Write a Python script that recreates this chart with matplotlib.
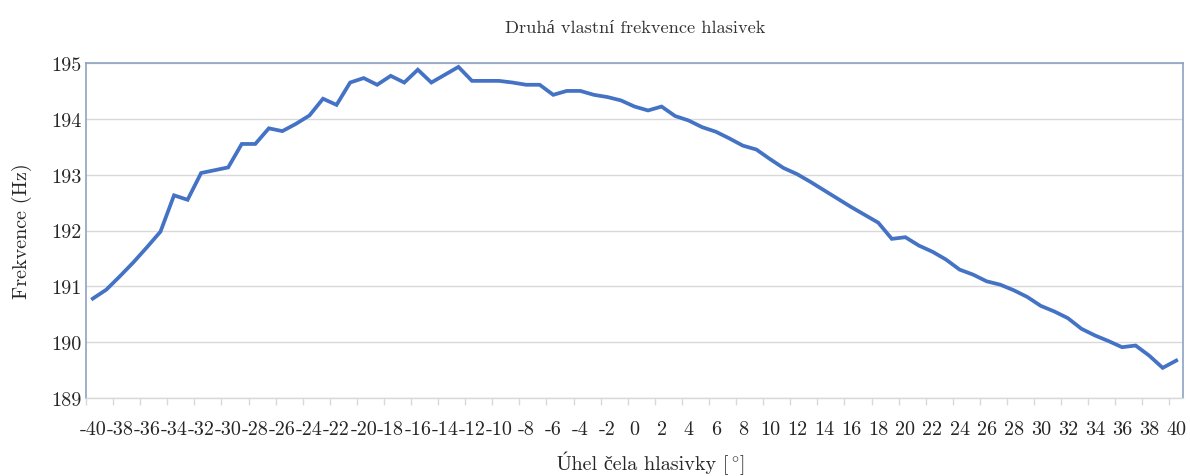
import numpy as np
import matplotlib
matplotlib.use("Agg")
import matplotlib.pyplot as plt
from matplotlib.ticker import FixedLocator
from matplotlib.offsetbox import TextArea, HPacker, AnnotationBbox

# Angle of the vocal fold face [deg] and the second eigenfrequency [Hz]
angles = list(range(-40, 41))
freq = [
    190.78, 190.94, 191.18, 191.43, 191.70, 191.98, 192.63, 192.55, 193.03, 193.08,
    193.13, 193.55, 193.55, 193.83, 193.78, 193.91, 194.06, 194.36, 194.25, 194.65,
    194.73, 194.61, 194.77, 194.65, 194.88, 194.65, 194.79, 194.93, 194.68, 194.68,
    194.68, 194.65, 194.61, 194.61, 194.43, 194.50, 194.50, 194.43, 194.39, 194.33,
    194.22, 194.15, 194.22, 194.05, 193.97, 193.85, 193.77, 193.65, 193.52, 193.45,
    193.28, 193.12, 193.01, 192.87, 192.72, 192.57, 192.42, 192.28, 192.14, 191.85,
    191.88, 191.73, 191.62, 191.48, 191.30, 191.21, 191.09, 191.03, 190.93, 190.81,
    190.65, 190.55, 190.43, 190.24, 190.12, 190.02, 189.91, 189.94, 189.76, 189.54,
    189.67,
]
x_ticks = list(range(-40, 41, 2))
y_ticks = [189, 190, 191, 192, 193, 194, 195]

TITLE = "Druhá vlastní frekvence hlasivek"
XLABEL_PARTS = ["Úhel čela hlasivky [", r"$^\circ$", "]"]
YLABEL = "Frekvence (Hz)"

plt.rcParams["font.family"] = ["cmr10", "Liberation Serif", "DejaVu Serif"]
plt.rcParams["mathtext.fontset"] = "cm"
plt.rcParams["axes.formatter.use_mathtext"] = True
TEXT = "#262626"

fig = plt.figure(figsize=(11.9, 4.77), dpi=100)
ax = fig.add_axes([86 / 1190, 1 - 399 / 477, 1097 / 1190, 335 / 477])

ax.plot(angles, freq, color="#4472C4", linewidth=2.7, solid_joinstyle="miter", zorder=3)

ax.set_xlim(-40.5, 40.5)
ax.set_ylim(189, 195)

ax.set_xticks(x_ticks)
ax.set_xticklabels([str(v) for v in x_ticks])
ax.xaxis.set_minor_locator(FixedLocator(np.arange(-40.5, 40.6, 2)))
ax.set_yticks(y_ticks)
ax.set_yticklabels([str(v) for v in y_ticks])

ax.tick_params(axis="x", which="major", length=0, pad=16, labelsize=14.5, labelcolor=TEXT)
ax.tick_params(axis="x", which="minor", length=5, color="#D9D9D9", width=1)
ax.tick_params(axis="y", length=0, pad=3, labelsize=14.5, labelcolor=TEXT)

ax.grid(axis="y", color="#D9D9D9", linewidth=1.0, zorder=0)
for side in ("left", "top", "right"):
    ax.spines[side].set_color("#8EA2C4")
    ax.spines[side].set_linewidth(1.2)
ax.spines["bottom"].set_color("#D9D9D9")
ax.spines["bottom"].set_linewidth(1.0)

fig.text(0.534, 1 - 28 / 477, TITLE, ha="center", va="center", fontsize=13.2, color="#333333")
fig.text(22 / 1190, 1 - 231 / 477, YLABEL, ha="center", va="center", rotation=90,
         fontsize=14.5, color=TEXT)

# x label: the degree sign comes from mathtext, since cmr10 maps U+00B0 to a ligature
parts = [TextArea(s, textprops=dict(fontsize=14.5, color=TEXT)) for s in XLABEL_PARTS]
xlabel = HPacker(children=parts, align="baseline", pad=0, sep=0)
fig.add_artist(AnnotationBbox(xlabel, (0.547, 1 - 463 / 477), xycoords="figure fraction",
                              frameon=False, box_alignment=(0.5, 0.5), pad=0))

fig.savefig("out.png", dpi=100, facecolor="white")
